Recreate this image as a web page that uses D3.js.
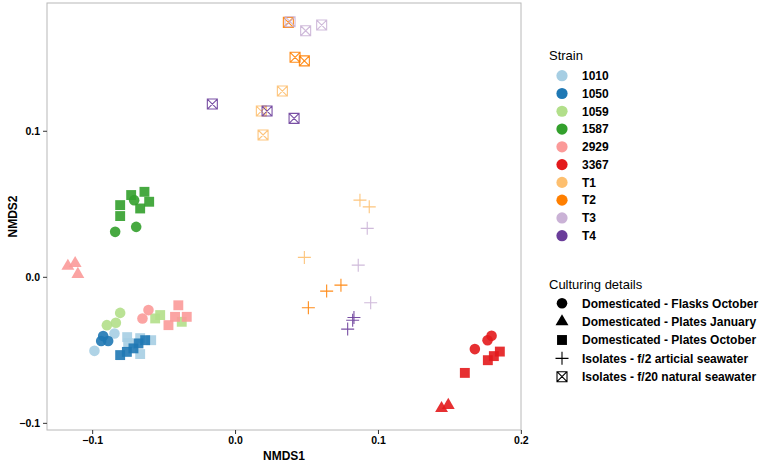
<!DOCTYPE html>
<html>
<head>
<meta charset="utf-8">
<script src="https://cdn.jsdelivr.net/npm/d3@7"></script>
<style>
  body { margin: 0; background: #fff; }
  svg { display: block; font-family: "Liberation Sans", Arial, sans-serif; }
</style>
</head>
<body>
<svg id="chart" width="765" height="466"></svg>
<script>
// ── Data ──────────────────────────────────────────────────────────────────────
const strains = ['1010', '1050', '1059', '1587', '2929', '3367', 'T1', 'T2', 'T3', 'T4'];
const strainColors = ['#A6CEE3', '#1F78B4', '#B2DF8A', '#33A02C', '#FB9A99',
                      '#E31A1C', '#FDBF6F', '#FF7F00', '#CAB2D6', '#6A3D9A'];

const cultures = [
  'Domesticated - Flasks October',
  'Domesticated - Plates January',
  'Domesticated - Plates October',
  'Isolates - f/2 articial seawater',
  'Isolates - f/20 natural seawater',
];
// culture codes: F flasks Oct, J plates Jan, O plates Oct, A f/2 artificial, N f/20 natural
const cultureCodes = ['F', 'J', 'O', 'A', 'N'];

const xTicks = [-0.1, 0.0, 0.1, 0.2];
const yTicks = [-0.1, 0.0, 0.1];

// samples per strain: [culture, NMDS1, NMDS2]
const pts1010 = [
  ['F', -0.0844, -0.0388], ['F', -0.0984, -0.0507],
  ['O', -0.0755, -0.0413], ['O', -0.0748, -0.0454], ['O', -0.0664, -0.0420],
  ['O', -0.0587, -0.0434], ['O', -0.0664, -0.0529],
];
const pts1050 = [
  ['F', -0.0923, -0.0406], ['F', -0.0937, -0.0440], ['F', -0.0888, -0.0440],
  ['O', -0.0804, -0.0536], ['O', -0.0757, -0.0514], ['O', -0.0711, -0.0490],
  ['O', -0.0676, -0.0456], ['O', -0.0629, -0.0434],
];
const pts1059 = [
  ['F', -0.0804, -0.0247], ['F', -0.0834, -0.0315], ['F', -0.0897, -0.0331],
  ['O', -0.0559, -0.0285], ['O', -0.0524, -0.0262], ['O', -0.0373, -0.0308],
];
const pts1587 = [
  ['F', -0.0706, 0.0525], ['F', -0.0839, 0.0308], ['F', -0.0692, 0.0342],
  ['O', -0.0804, 0.0491], ['O', -0.0804, 0.0416], ['O', -0.0727, 0.0560],
  ['O', -0.0634, 0.0582], ['O', -0.0601, 0.0514], ['O', -0.0664, 0.0468],
];
const pts2929 = [
  ['F', -0.0606, -0.0228], ['F', -0.0648, -0.0285],
  ['J', -0.1170, 0.0073], ['J', -0.1119, 0.0092], ['J', -0.1100, 0.0018],
  ['O', -0.0466, -0.0331], ['O', -0.0397, -0.0195], ['O', -0.0338, -0.0274],
  ['O', -0.0420, -0.0274],
];
const pts3367 = [
  ['F', 0.1678, -0.0495], ['F', 0.1767, -0.0434], ['F', 0.1795, -0.0404],
  ['J', 0.1445, -0.0901], ['J', 0.1492, -0.0879],
  ['O', 0.1769, -0.0571], ['O', 0.1811, -0.0543], ['O', 0.1853, -0.0512],
  ['O', 0.1608, -0.0658],
];
const ptsT1 = [
  ['A', 0.0874, 0.0525], ['A', 0.0939, 0.0479], ['A', 0.0485, 0.0133],
  ['N', 0.0331, 0.1272], ['N', 0.0184, 0.1135], ['N', 0.0196, 0.0971],
];
const ptsT2 = [
  ['A', 0.0741, -0.0057], ['A', 0.0641, -0.0098], ['A', 0.0513, -0.0212],
  ['N', 0.0373, 0.1742], ['N', 0.0420, 0.1503], ['N', 0.0485, 0.1479],
];
const ptsT3 = [
  ['A', 0.0925, 0.0332], ['A', 0.0862, 0.0080], ['A', 0.0949, -0.0178],
  ['N', 0.0385, 0.1747], ['N', 0.0494, 0.1685], ['N', 0.0606, 0.1724],
];
const ptsT4 = [
  ['A', 0.0832, -0.0279], ['A', 0.0823, -0.0297], ['A', 0.0788, -0.0358],
  ['N', -0.0159, 0.1183], ['N', 0.0224, 0.1135], ['N', 0.0413, 0.1085],
];
const strainPoints = [pts1010, pts1050, pts1059, pts1587, pts2929,
                      pts3367, ptsT1, ptsT2, ptsT3, ptsT4];

// ── Layout ────────────────────────────────────────────────────────────────────
const panel = { left: 47, right: 521, top: 3, bottom: 430 };
const svg = d3.select('#chart');

const x = d3.scaleLinear().domain([-0.1316, 0.2001]).range([panel.left, panel.right]);
const y = d3.scaleLinear().domain([-0.1049, 0.1875]).range([panel.bottom, panel.top]);

const color = d3.scaleOrdinal().domain(strains).range(strainColors);
const fmt = d3.format('.1f');

// ── Shapes (ggplot shapes 16, 17, 15, 3, 7) ───────────────────────────────────
const filledShape = {
  F: d3.symbol(d3.symbolCircle, 88)(),
  J: d3.symbol(d3.symbolTriangle, 72)(),
  O: d3.symbol(d3.symbolSquare, 98)(),
};
const strokeShape = {
  A: 'M-6.5,0H6.5M0,-6.5V6.5',
  N: 'M-5,-5H5V5H-5ZM-5,-5L5,5M5,-5L-5,5',
};

function drawShape(g, code, col, opacity) {
  if (filledShape[code]) {
    g.append('path').attr('d', filledShape[code])
      .attr('fill', col).attr('fill-opacity', opacity);
  } else {
    g.append('path').attr('d', strokeShape[code])
      .attr('fill', 'none').attr('stroke', col).attr('stroke-width', 1.1)
      .attr('stroke-opacity', opacity);
  }
}

// ── Panel ─────────────────────────────────────────────────────────────────────
svg.append('rect')
  .attr('x', panel.left).attr('y', panel.top)
  .attr('width', panel.right - panel.left).attr('height', panel.bottom - panel.top)
  .attr('fill', 'none').attr('stroke', '#b8b8b8').attr('stroke-width', 1);

// ── Points ────────────────────────────────────────────────────────────────────
const pointsG = svg.append('g');
strainPoints.forEach((pts, i) => {
  pts.forEach(([code, v1, v2]) => {
    const g = pointsG.append('g')
      .attr('transform', `translate(${x(v1)},${y(v2)})`);
    drawShape(g, code, color(strains[i]), 0.9);
  });
});

// ── Axes ──────────────────────────────────────────────────────────────────────
const xAxis = svg.append('g')
  .attr('transform', `translate(0,${panel.bottom})`)
  .call(d3.axisBottom(x).tickValues(xTicks).tickFormat(fmt).tickSize(4).tickPadding(3));
const yAxis = svg.append('g')
  .attr('transform', `translate(${panel.left},0)`)
  .call(d3.axisLeft(y).tickValues(yTicks).tickFormat(fmt).tickSize(4).tickPadding(3));

[xAxis, yAxis].forEach(a => {
  a.select('.domain').remove();
  a.selectAll('.tick line').attr('stroke', '#333');
  a.selectAll('.tick text')
    .attr('font-family', '"Liberation Sans", Arial, sans-serif')
    .attr('font-size', '10.5px').attr('font-weight', 'bold').attr('fill', '#000');
});

svg.append('text')
  .attr('x', (panel.left + panel.right) / 2).attr('y', 460)
  .attr('text-anchor', 'middle')
  .attr('font-size', '12px').attr('font-weight', 'bold')
  .text('NMDS1');

svg.append('text')
  .attr('transform', `translate(17,${(panel.top + panel.bottom) / 2}) rotate(-90)`)
  .attr('text-anchor', 'middle')
  .attr('font-size', '12px').attr('font-weight', 'bold')
  .text('NMDS2');

// ── Legend: Strain ────────────────────────────────────────────────────────────
const legKeyX = 562, legTextX = 582;

svg.append('text')
  .attr('x', 549).attr('y', 60)
  .attr('font-size', '13px')
  .text('Strain');

const strainLeg = svg.append('g').selectAll('g')
  .data(strains)
  .join('g')
    .attr('transform', (d, i) => `translate(0,${75.7 + i * 17.78})`);
strainLeg.append('circle')
  .attr('cx', legKeyX).attr('cy', 0).attr('r', 5.6)
  .attr('fill', d => color(d));
strainLeg.append('text')
  .attr('x', legTextX).attr('y', 4.3)
  .attr('font-size', '12px').attr('font-weight', 'bold')
  .text(d => d);

// ── Legend: Culturing details ─────────────────────────────────────────────────
svg.append('text')
  .attr('x', 549).attr('y', 288.5)
  .attr('font-size', '13px')
  .text('Culturing details');

const cultureLeg = svg.append('g').selectAll('g')
  .data(cultures)
  .join('g')
    .attr('transform', (d, i) => `translate(0,${303.3 + i * 18.35})`);
cultureLeg.each(function (d, i) {
  const g = d3.select(this).append('g').attr('transform', `translate(${legKeyX},0)`);
  drawShape(g, cultureCodes[i], '#000', 1);
});
cultureLeg.append('text')
  .attr('x', legTextX).attr('y', 4.3)
  .attr('font-size', '12px').attr('font-weight', 'bold')
  .text(d => d);
</script>
</body>
</html>
